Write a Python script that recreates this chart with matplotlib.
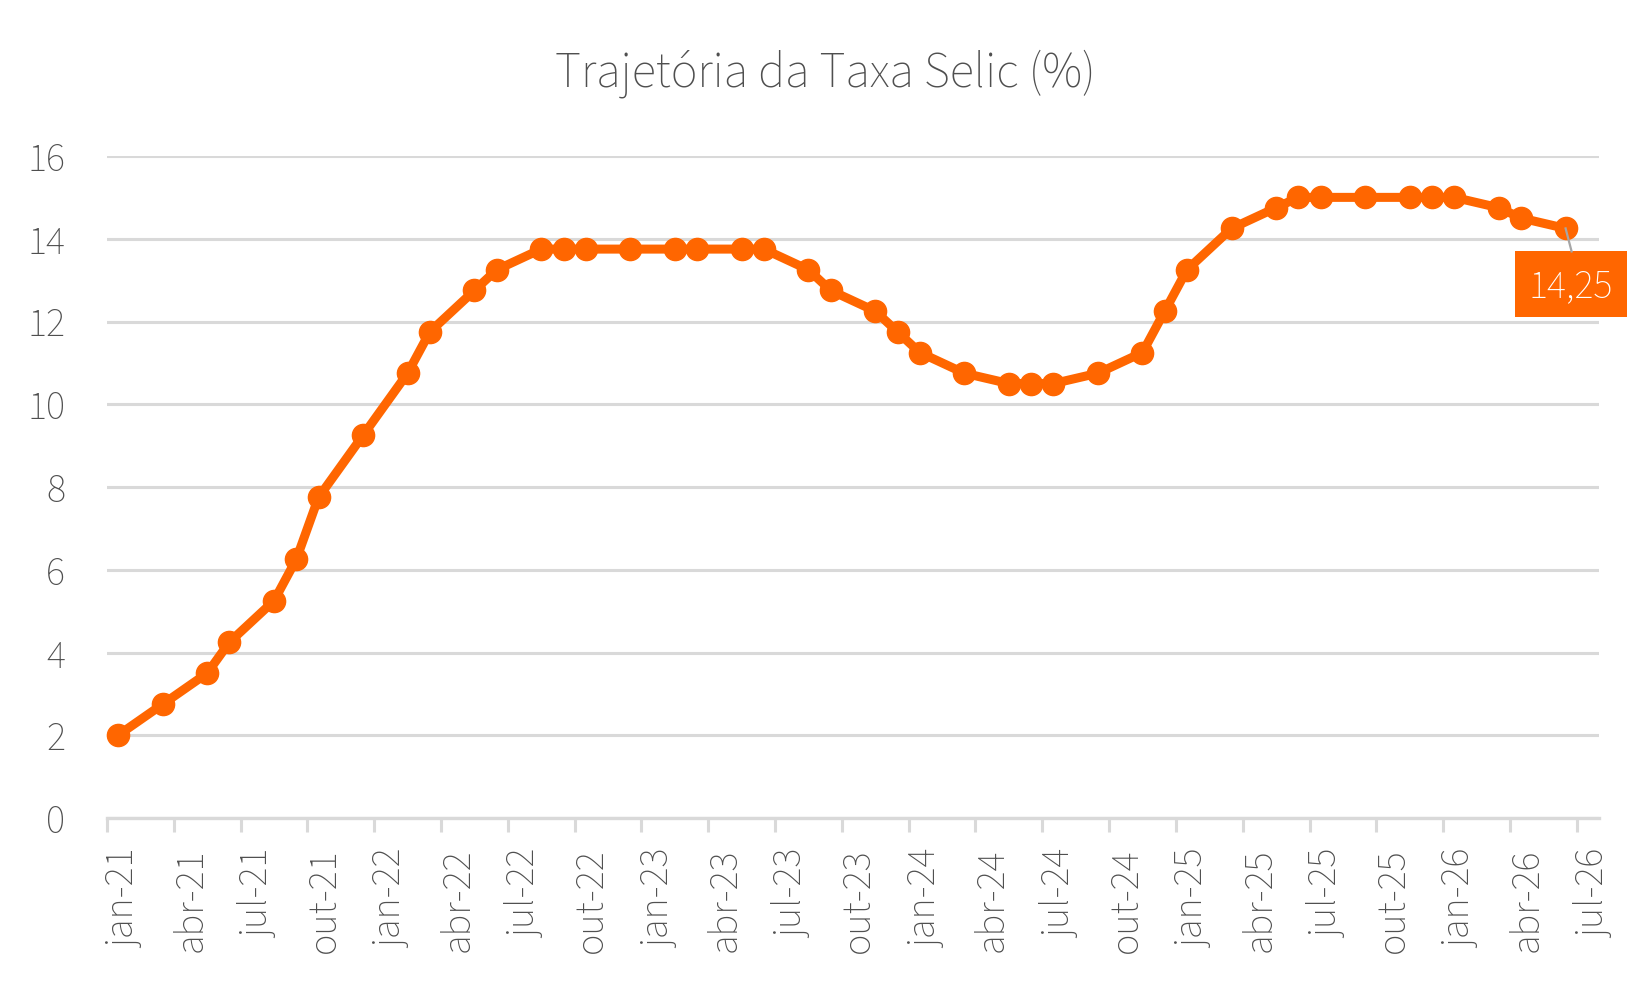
import matplotlib
matplotlib.use("Agg")
import matplotlib.pyplot as plt
import matplotlib.transforms as mtransforms
from matplotlib.patches import Rectangle
import numpy as np

# ---------------- data ----------------
meeting_months = ["2021-01", "2021-03", "2021-05", "2021-06", "2021-08", "2021-09", "2021-10", "2021-12",
                  "2022-02", "2022-03", "2022-05", "2022-06", "2022-08", "2022-09", "2022-10", "2022-12",
                  "2023-02", "2023-03", "2023-05", "2023-06", "2023-08", "2023-09", "2023-11", "2023-12",
                  "2024-01", "2024-03", "2024-05", "2024-06", "2024-07", "2024-09", "2024-11", "2024-12",
                  "2025-01", "2025-03", "2025-05", "2025-06", "2025-07", "2025-09", "2025-11", "2025-12",
                  "2026-01", "2026-03", "2026-04", "2026-06"]
selic = [2.00, 2.75, 3.50, 4.25, 5.25, 6.25, 7.75, 9.25,
         10.75, 11.75, 12.75, 13.25, 13.75, 13.75, 13.75, 13.75,
         13.75, 13.75, 13.75, 13.75, 13.25, 12.75, 12.25, 11.75,
         11.25, 10.75, 10.50, 10.50, 10.50, 10.75, 11.25, 12.25,
         13.25, 14.25, 14.75, 15.00, 15.00, 15.00, 15.00, 15.00,
         15.00, 14.75, 14.50, 14.25]
tick_labels = ["jan-21", "abr-21", "jul-21", "out-21", "jan-22", "abr-22", "jul-22", "out-22",
               "jan-23", "abr-23", "jul-23", "out-23", "jan-24", "abr-24", "jul-24", "out-24",
               "jan-25", "abr-25", "jul-25", "out-25", "jan-26", "abr-26", "jul-26"]
y_ticks = [0, 2, 4, 6, 8, 10, 12, 14, 16]
title = "Trajetória da Taxa Selic (%)"

# ---------------- style ----------------
ORANGE = "#FF6600"
GRID = "#D9D9D9"
TEXT = "#4F4F4F"
LEADER = "#A6A6A6"
FONT = ["Source Sans 3", "DejaVu Sans"]
plt.rcParams["font.family"] = FONT
plt.rcParams["font.weight"] = "light"

W, H, DPI = 1650, 990, 100
start_year, start_month = 2021, 1


def month_index(s):
    yy, mm = s.split("-")
    return (int(yy) - start_year) * 12 + (int(mm) - start_month)


x = np.array([month_index(m) for m in meeting_months]) + 0.5  # points centred in their month
y = np.array(selic)
n_months = 67  # jan-21 .. jul-26 inclusive
tick_pos = np.arange(0, n_months, 3)

fig = plt.figure(figsize=(W / DPI, H / DPI), dpi=DPI)
ax_l, ax_r, ax_t, ax_b = 107, 1599, 156, 818
ax = fig.add_axes([ax_l / W, 1 - ax_b / H, (ax_r - ax_l) / W, (ax_b - ax_t) / H])

ax.set_xlim(0, n_months)
ax.set_ylim(0, 16)

ax.plot(x, y, color=ORANGE, lw=6.5, marker="o", ms=16, mfc=ORANGE, mec=ORANGE,
        solid_joinstyle="miter", zorder=3, clip_on=False)

# grid and axes
ax.set_yticks(y_ticks)
ax.yaxis.grid(True, color=GRID, lw=2.2, zorder=0)
ax.set_axisbelow(True)
for s in ["top", "right", "left"]:
    ax.spines[s].set_visible(False)
ax.spines["bottom"].set_color(GRID)
ax.spines["bottom"].set_linewidth(2.4)
ax.spines["bottom"].set_zorder(1)

ax.tick_params(axis="y", length=0, pad=30, labelsize=29, labelcolor=TEXT)
ax.set_yticklabels([str(v) for v in y_ticks])

ax.set_xticks(tick_pos)
ax.set_xticklabels(tick_labels, rotation=90, fontsize=29, color=TEXT)
ax.tick_params(axis="x", length=10, width=2.2, color=GRID, pad=12, direction="out")
offset = mtransforms.ScaledTranslation(17 / DPI, 0, fig.dpi_scale_trans)
for lab in ax.get_xticklabels():
    lab.set_transform(lab.get_transform() + offset)

# title
fig.text(0.5, 1 - 87 / H, title, ha="center", va="baseline", fontsize=36, color=TEXT)

# data label on last point
last_txt = f"{y[-1]:.2f}".replace(".", ",")
px, py = ax.transData.transform((x[-1], y[-1]))  # pixel position of last point (origin bottom-left)
box = Rectangle((px - 51, py - 89), 112, 66, transform=mtransforms.IdentityTransform(),
                fc=ORANGE, ec="none", zorder=5)
fig.add_artist(box)
fig.add_artist(plt.Line2D([px, px + 6], [py, py - 23], transform=mtransforms.IdentityTransform(),
                          color=LEADER, lw=1.6, zorder=6))
fig.text(px + 5, py - 58, last_txt, transform=mtransforms.IdentityTransform(),
         ha="center", va="center", fontsize=29, color="white", zorder=7)

fig.savefig("out.png", dpi=DPI, facecolor="white")
